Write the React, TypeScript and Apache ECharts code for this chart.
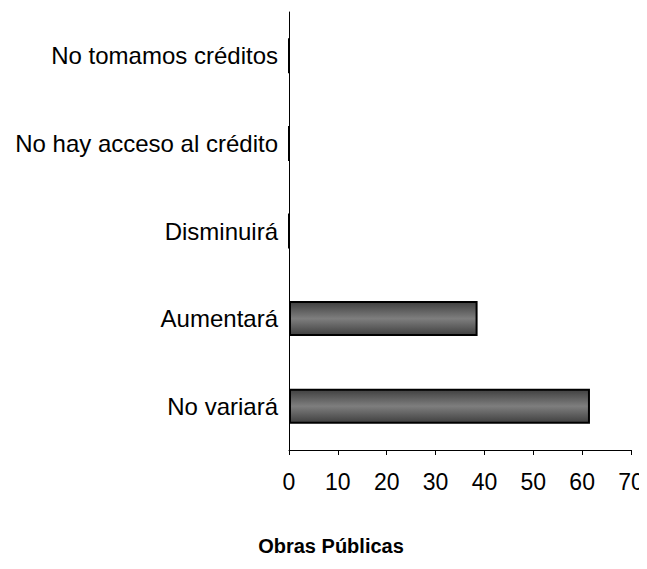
import React, { useEffect, useRef } from "react";
import * as echarts from "echarts";

const categories = ["No variará", "Aumentará", "Disminuirá", "No hay acceso al crédito", "No tomamos créditos"];
const values = [61.6, 38.6, 0, 0, 0];
const xTicks = { min: 0, max: 70, interval: 10 };
const chartTitle = "Obras Públicas";

export default function App() {
  const ref = useRef<HTMLDivElement>(null);
  useEffect(() => {
    const chart = echarts.init(ref.current!, undefined, { renderer: "svg" });
    chart.setOption({
      animation: false,
      backgroundColor: "#ffffff",
      graphic: [
        {
          type: "text",
          x: 331,
          y: 546,
          style: {
            text: chartTitle,
            fontFamily: "Liberation Sans, Arial",
            fontSize: 20,
            fontWeight: "bold",
            fill: "#000",
            align: "center",
            verticalAlign: "middle",
          },
        },
      ],
      grid: { left: 289, right: 16, top: 12, bottom: 119, containLabel: false },
      xAxis: {
        type: "value",
        min: xTicks.min,
        max: xTicks.max,
        interval: xTicks.interval,
        axisLine: { show: true, lineStyle: { color: "#000", width: 1 } },
        axisTick: { show: true, length: 5, lineStyle: { color: "#000" } },
        splitLine: { show: false },
        axisLabel: {
          margin: 32,
          verticalAlign: "middle",
          color: "#000",
          fontSize: 23,
          fontFamily: "Liberation Sans, Arial",
        },
      },
      yAxis: {
        type: "category",
        data: categories,
        axisLine: { show: true, lineStyle: { color: "#000", width: 1 } },
        axisTick: { show: false },
        axisLabel: { margin: 11, color: "#000", fontSize: 24, fontFamily: "Liberation Sans, Arial" },
      },
      series: [
        {
          type: "bar",
          data: values,
          barWidth: "40%",
          itemStyle: {
            borderColor: "#000",
            borderWidth: 2,
            color: new echarts.graphic.LinearGradient(0, 0, 0, 1, [
              { offset: 0, color: "#404040" },
              { offset: 0.5, color: "#7e7e7e" },
              { offset: 1, color: "#404040" },
            ]),
          },
        },
      ],
    });
    return () => chart.dispose();
  }, []);
  return <div ref={ref} style={{ width: 647, height: 569, margin: -8 }} />;
}
